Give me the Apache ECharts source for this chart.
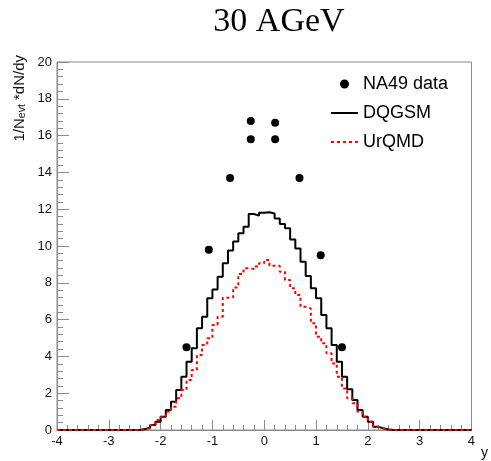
<!DOCTYPE html>
<html>
<head>
<meta charset="utf-8">
<title>30 AGeV</title>
<script src="https://cdn.jsdelivr.net/npm/echarts@6/dist/echarts.min.js"></script>
<style>
  html, body { margin: 0; padding: 0; background: #fff; }
  #chart { width: 491px; height: 461px; }
</style>
</head>
<body>
<div id="chart"></div>
<script>
// Rapidity bins: width 0.1, covering y = -2.5 ... 2.5 (everything outside is empty)
const binStart = -2.5;
const binWidth = 0.1;

// DQGSM histogram, 1/N_evt dN/dy per bin
const dqgsmValues = [
  0.00, 0.05, 0.14, 0.27, 0.45, 0.72, 1.09, 1.54, 2.17, 2.90,
  3.71, 4.44, 5.53, 6.16, 7.16, 7.64, 8.33, 9.06, 9.75, 10.24,
  10.69, 11.05, 11.74, 11.65, 11.81, 11.83, 11.77, 11.50, 11.20, 10.96,
  10.36, 9.87, 9.15, 8.37, 7.70, 7.16, 6.25, 5.53, 4.62, 3.71,
  2.90, 2.21, 1.63, 1.09, 0.72, 0.45, 0.18, 0.09, 0.03, 0.00
];

// UrQMD histogram, same binning
const urqmdValues = [
  0.00, 0.04, 0.10, 0.27, 0.54, 0.72, 0.99, 1.27, 1.72, 2.17,
  2.72, 3.26, 4.08, 4.62, 4.98, 5.71, 6.16, 7.19, 7.21, 7.75,
  8.48, 8.79, 8.75, 8.88, 9.06, 9.24, 8.93, 8.93, 8.60, 8.15,
  7.70, 7.34, 6.70, 6.61, 5.80, 5.07, 4.71, 4.17, 3.62, 2.90,
  2.26, 1.72, 1.45, 0.99, 0.72, 0.45, 0.18, 0.08, 0.03, 0.00
];

// NA49 measured points (measured + reflected)
const na49Y    = [-1.50, -1.07, -0.66, -0.26, -0.26, 0.21, 0.21, 0.68, 1.09, 1.50];
const na49dNdy = [ 4.50,  9.80, 13.70, 16.80, 15.80, 16.70, 15.80, 13.70, 9.50, 4.50];

// Axis ranges
const xMin = -4, xMax = 4, xStep = 1;
const yMin = 0, yMax = 20, yStep = 2;

// Build step-line data over the full axis range: each point is a bin's lower
// edge with the bin content; the last point closes the final bin at xMax.
function histogramPoints(values) {
  const pts = [];
  const nLow = Math.round((binStart - xMin) / binWidth);
  for (let i = 0; i < nLow; i++) pts.push([xMin + i * binWidth, 0]);
  values.forEach((v, i) => pts.push([binStart + i * binWidth, v]));
  const edgeHigh = binStart + values.length * binWidth;
  const nHigh = Math.round((xMax - edgeHigh) / binWidth);
  for (let i = 0; i < nHigh; i++) pts.push([edgeHigh + i * binWidth, 0]);
  pts.push([xMax, 0]);
  return pts.map(p => [Math.round(p[0] * 1000) / 1000, p[1]]);
}

const frameColor = '#8a8a8a';
const labelFont = 'Liberation Sans';
const hidden = { opacity: 0 };

const chart = echarts.init(document.getElementById('chart'), null, { renderer: 'canvas' });

chart.setOption({
  animation: false,
  backgroundColor: '#ffffff',
  title: {
    text: '30 AGeV',
    left: 274,
    textAlign: 'center',
    top: 0,
    textStyle: {
      fontFamily: 'Liberation Serif',
      fontSize: 34,
      fontWeight: 'normal',
      color: '#000'
    }
  },
  grid: {
    left: 57, right: 3, top: 62, bottom: 31,
    show: true,
    borderColor: frameColor,
    borderWidth: 1,
    backgroundColor: 'transparent'
  },
  legend: {
    orient: 'vertical',
    left: 325,
    top: 70,
    itemWidth: 27,
    itemHeight: 9,
    itemGap: 11,
    textStyle: { fontFamily: labelFont, fontSize: 18, color: '#000' },
    data: [
      { name: 'NA49 data' },
      { name: 'DQGSM', itemStyle: hidden },
      { name: 'UrQMD', itemStyle: hidden }
    ]
  },
  xAxis: {
    type: 'value',
    min: xMin, max: xMax, interval: xStep,
    name: 'y',
    nameLocation: 'end',
    nameGap: 0,
    nameTextStyle: {
      fontFamily: labelFont, fontSize: 14, color: '#111',
      align: 'right', verticalAlign: 'top', padding: [16, 0, 0, 0]
    },
    axisLine: { show: true, onZero: false, lineStyle: { color: frameColor, width: 1 } },
    axisTick: { show: true, inside: true, length: 10, lineStyle: { color: frameColor } },
    minorTick: { show: true, splitNumber: 5, length: 5, lineStyle: { color: frameColor } },
    splitLine: { show: false },
    axisLabel: { fontFamily: labelFont, fontSize: 13, color: '#111', margin: 5 }
  },
  yAxis: {
    type: 'value',
    min: yMin, max: yMax, interval: yStep,
    axisLine: { show: true, onZero: false, lineStyle: { color: frameColor, width: 1 } },
    axisTick: { show: true, inside: true, length: 12, lineStyle: { color: frameColor } },
    minorTick: { show: true, splitNumber: 5, length: 6, lineStyle: { color: frameColor } },
    splitLine: { show: false },
    axisLabel: { fontFamily: labelFont, fontSize: 13, color: '#111', margin: 5 }
  },
  graphic: [{
    type: 'text',
    x: 20,
    y: 55,
    rotation: Math.PI / 2,
    style: {
      text: '1/N{sub|evt} *dN/dy',
      align: 'right',
      verticalAlign: 'middle',
      fontFamily: labelFont,
      fontSize: 15,
      fill: '#111',
      rich: {
        sub: { fontFamily: labelFont, fontSize: 10.5, fill: '#111', verticalAlign: 'bottom', lineHeight: 10 }
      }
    }
  }],
  series: [
    {
      name: 'NA49 data',
      type: 'scatter',
      symbol: 'circle',
      symbolSize: 8,
      itemStyle: { color: '#000', opacity: 1 },
      data: na49Y.map((x, i) => [x, na49dNdy[i]]),
      z: 5
    },
    {
      name: 'DQGSM',
      type: 'line',
      step: 'end',
      symbol: 'none',
      lineStyle: { color: '#000', width: 2 },
      itemStyle: { color: '#000' },
      data: histogramPoints(dqgsmValues),
      z: 3
    },
    {
      name: 'UrQMD',
      type: 'line',
      step: 'end',
      symbol: 'none',
      lineStyle: { color: '#ff0000', width: 2, type: [3, 3] },
      itemStyle: { color: '#ff0000' },
      data: histogramPoints(urqmdValues),
      z: 4
    }
  ]
});
</script>
</body>
</html>
